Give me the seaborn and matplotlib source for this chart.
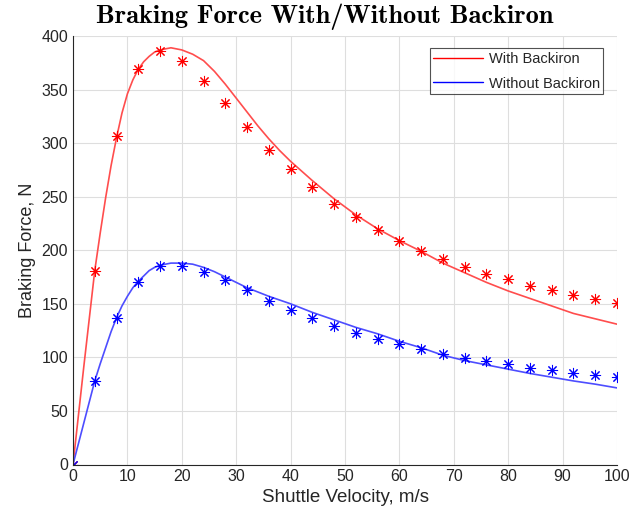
import matplotlib
matplotlib.use("Agg")
import matplotlib.pyplot as plt
from matplotlib.lines import Line2D
import pandas as pd
import seaborn as sns

# smooth model curves
x_line = [0, 2, 4, 5, 6, 7, 8, 9, 10, 11, 12, 13, 14, 15, 16, 18, 20, 22, 24, 26, 28, 30, 32, 34, 36,
          38, 40, 44, 48, 52, 56, 60, 64, 68, 72, 76, 80, 84, 88, 92, 96, 100]
with_line = [0, 92, 181, 216, 249, 279, 305, 328, 346, 359, 369, 376, 381, 385, 387, 389, 387, 383, 377,
             367, 355, 342, 329, 316, 304,
             293, 283, 265, 248, 233, 220, 209, 199, 188, 179, 170, 162, 155, 148, 141, 136, 131]
without_line = [0, 39, 78, 94, 109, 124, 137, 148, 157, 165, 171, 176, 181, 184, 186, 188, 188, 187, 184,
                180, 175, 170, 165, 161, 157,
                153.5, 150, 142, 135, 128, 122, 115, 109, 102, 97, 93, 89, 85, 81.5, 78, 75, 71.5]

# measured points (asterisks)
x_pts = [0, 4, 8, 12, 16, 20, 24, 28, 32, 36, 40, 44, 48, 52, 56, 60, 64, 68, 72, 76,
         80, 84, 88, 92, 96, 100]
with_pts = [0, 181, 307, 369, 386, 377, 358, 337, 315, 294, 276, 259, 243, 231, 219, 209, 199, 192,
            184, 178, 173, 167, 162.5, 158.5, 154.5, 151]
without_pts = [0, 78, 137, 170.5, 185, 185.5, 180, 172, 162.5, 153, 144, 136.5, 129, 123, 117.5,
               112.5, 108, 103.5, 99.5, 96.5, 93.5, 90.5, 88, 85.5, 83.5, 81.5]

labels = ["With Backiron", "Without Backiron"]
colors = ["#ff0000", "#0000ff"]
line_colors = ["#ff4d4d", "#4d4dff"]

lines = pd.DataFrame({"x": x_line, "with": with_line, "without": without_line})
pts = pd.DataFrame({"x": x_pts, "with": with_pts, "without": without_pts})

sns.set_style("white")
plt.rcParams["font.family"] = ["Liberation Sans", "DejaVu Sans"]
dark = "#262626"

fig = plt.figure(figsize=(6.43, 5.16), dpi=100)
ax = fig.add_axes([73 / 643, 1 - 464.5 / 516, 544 / 643, 428.5 / 516])

for col, lc, c in zip(["with", "without"], line_colors, colors):
    sns.lineplot(data=lines, x="x", y=col, ax=ax, color=lc, linewidth=1.2,
                 estimator=None, sort=False)
    sns.lineplot(data=pts, x="x", y=col, ax=ax, color=c, linestyle="",
                 marker=(8, 2, 0), markersize=8, markeredgewidth=0.75,
                 markeredgecolor=c, estimator=None, sort=False)

ax.set_xlim(0, 100)
ax.set_ylim(0, 400)
ax.set_xticks(range(0, 101, 10))
ax.set_yticks(range(0, 401, 50))
ax.grid(True, color="#dedede", linewidth=0.8)
ax.set_axisbelow(True)

for side in ["top", "right"]:
    ax.spines[side].set_visible(False)
for side in ["left", "bottom"]:
    ax.spines[side].set_color(dark)
    ax.spines[side].set_linewidth(0.8)

ax.tick_params(direction="in", length=4, width=0.8, colors=dark, labelsize=11.5)
ax.set_xlabel("Shuttle Velocity, m/s", fontsize=13.5, color=dark, labelpad=3)
ax.set_ylabel("Braking Force, N", fontsize=13, color=dark, labelpad=4)

handles = [Line2D([], [], color=c, linewidth=1.0) for c in colors]
leg = ax.legend(handles, labels, loc="upper right", bbox_to_anchor=(0.975, 0.972),
                fontsize=10.5, handlelength=3.4, frameon=True, fancybox=False,
                borderpad=0.25, labelspacing=0.75, handletextpad=0.4,
                borderaxespad=0)
leg.get_frame().set_edgecolor(dark)
leg.get_frame().set_linewidth(0.8)

fig.text(325 / 643, 1 - 17 / 516, "Braking Force With/Without Backiron",
         ha="center", va="center", fontsize=19, fontfamily="cmb10", color="black")

fig.savefig("out.png", dpi=100)
